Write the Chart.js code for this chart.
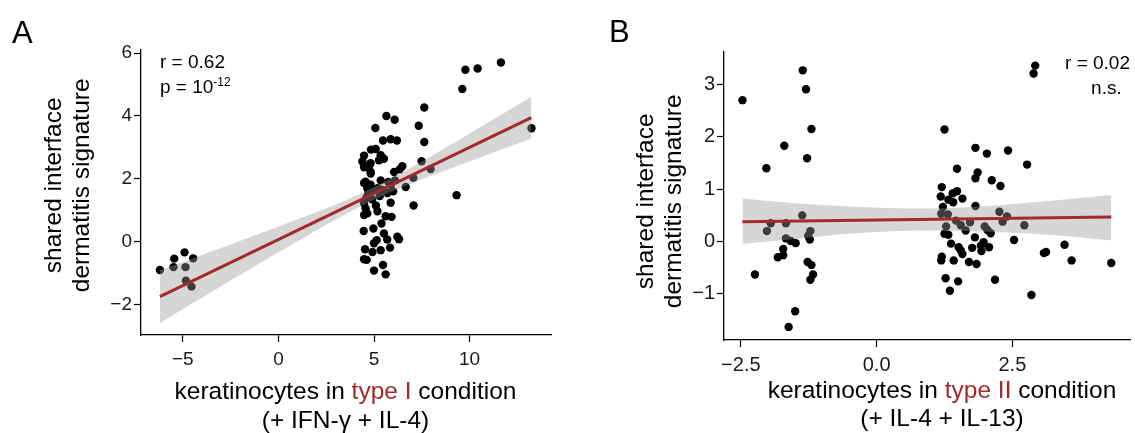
<!DOCTYPE html>
<html>
<head>
<meta charset="utf-8">
<script src="https://cdn.jsdelivr.net/npm/chart.js@4.4.1/dist/chart.umd.min.js"></script>
<style>
body { margin: 0; background: #fff; font-family: "Liberation Sans", Arial, sans-serif; color: #000; }
#wrap { position: relative; width: 1135px; height: 433px; overflow: hidden; }
canvas { position: absolute; top: 0; }
.txt { position: absolute; white-space: nowrap; line-height: 1; }
.sup { font-size: 12px; position: relative; top: -7px; }
.ytitle { position: absolute; width: 300px; height: 56.6px; line-height: 28.3px; font-size: 24.5px;
          text-align: center; transform: rotate(-90deg); white-space: nowrap; }
.xtitle { position: absolute; width: 500px; line-height: 28.3px; font-size: 24.5px; text-align: center; white-space: nowrap; }
.red { color: #a32a2a; }
</style>
</head>
<body>
<div id="wrap">
  <canvas id="chartA" width="570" height="433" style="left:0"></canvas>
  <canvas id="chartB" width="565" height="433" style="left:570px"></canvas>

  <div class="txt" style="font-size:31px; left:12px; top:16.5px">A</div>
  <div class="txt" style="font-size:31px; left:609px; top:15.5px">B</div>

  <div class="txt" style="font-size:19px; left:160px; top:52.2px">r = 0.62</div>
  <div class="txt" style="font-size:19px; left:160px; top:77.2px">p = 10<span class="sup">-12</span></div>
  <div class="txt" style="font-size:19px; right:5px; top:52.9px">r = 0.02</div>
  <div class="txt" style="font-size:19px; right:13.3px; top:78.2px">n.s.</div>

  <div class="ytitle" style="left:-82.8px; top:156.7px">shared interface<br>dermatitis signature</div>
  <div class="ytitle" style="left:508.6px; top:172.7px">shared interface<br>dermatitis signature</div>

  <div class="xtitle" style="left:95.5px; top:377.4px">keratinocytes in <span class="red">type I</span> condition<br>(+ IFN-γ + IL-4)</div>
  <div class="xtitle" style="left:692px; top:375.7px">keratinocytes in <span class="red">type II</span> condition<br>(+ IL-4 + IL-13)</div>
</div>

<script>
// panel A: type I condition
const xA = [-6.2, -5.45, -4.91, -4.46, -5.49, -4.86, -4.84, -4.55,
  9.78, 10.42, 11.64, 9.62, 7.63, 5.65, 6.08, 5.07, 7.34, 5.47,
  5.87, 6.2, 7.63, 4.84, 5.09, 4.48, 5.35, 5.52, 5.26, 4.48,
  4.79, 7.49, 6.48, 6.34, 6.05, 4.83, 7.96, 4.48, 7.06, 6.66,
  5.87, 9.32, 5.87, 7.07, 4.48, 4.56, 5.18, 4.48, 4.65, 5.61,
  5.92, 5.39, 4.97, 4.46, 5.52, 5.69, 6.22, 6.31, 5.14, 5.0,
  5.84, 4.53, 5.35, 4.92, 4.48, 4.62, 5.47, 5.0, 5.61, 13.24,
  4.39, 4.82, 4.82, 4.56, 4.82,
  4.7, 4.95, 5.2, 5.45, 5.7, 4.6, 4.9, 5.3, 6.0, 5.1, 4.65, 5.75, 6.1, 5.35];
const yA = [-0.9, -0.54, -0.34, -0.53, -0.81, -0.81, -1.24, -1.43,
  5.47, 5.51, 5.7, 4.86, 4.27, 4.0, 3.88, 3.62, 3.69, 3.22,
  3.26, 3.22, 3.17, 2.93, 2.95, 2.74, 2.75, 2.64, 2.59, 2.37,
  2.46, 2.56, 2.4, 2.3, 2.22, 2.17, 2.31, 1.87, 2.03, 1.74,
  1.8, 1.48, 1.24, 1.15, 1.22, 1.06, 0.97, 0.85, 0.9, 0.81,
  0.79, 0.58, 0.42, 0.34, 0.26, 0.07, 0.16, 0.08, 0.05, -0.05,
  -0.19, -0.24, -0.27, -0.33, -0.56, -0.58, -0.74, -0.92, -1.04, 3.61,
  2.55, 2.5, 2.23, 1.91, 1.81,
  1.55, 1.62, 1.7, 1.65, 1.55, 1.4, 1.35, 1.45, 1.6, 1.15, 1.7, 1.9, 1.95, 1.95];
const fitXA = [-6.2, 13.23];
const fitYA = [-1.75, 3.95];
const bandXA = [-6.2, -3, 0, 2.5, 4.8, 7, 9.5, 13.23];
const bandHiA = [-0.91, -0.20, 0.48, 1.06, 1.68, 2.38, 3.26, 4.61];
const bandLoA = [-2.59, -1.42, -0.34, 0.54, 1.28, 1.86, 2.44, 3.28];
const xTicksA = [-5, 0, 5, 10];
const xLabelsA = ['\u22125', '0', '5', '10'];
const yTicksA = [-2, 0, 2, 4, 6];
const yLabelsA = ['\u22122', '0', '2', '4', '6'];

// panel B: type II condition
const xB = [-2.47, -1.36, -1.30, -1.20, -1.70, -1.28, -2.03, -1.37, -1.95, -1.67, -2.02, -1.22, -1.26, -1.23,
  -1.67, -1.58, -1.49, -1.72, -1.82, -1.72, -1.27, -1.20, -1.17, -1.22, -2.24, -1.50, -1.62,
  2.92, 2.89, 1.25, 1.82, 2.03, 2.42, 2.77, 1.48, 1.86, 1.82, 2.12, 2.28, 1.20, 1.40, 1.48, 1.18,
  1.58, 1.32, 1.41, 1.82, 1.22, 1.19, 1.31, 2.26, 2.40, 2.32, 2.72, 1.99, 2.04, 1.46, 1.55, 1.28,
  1.64, 1.72, 2.10, 1.25, 1.32, 1.81, 2.53, 1.97, 1.92, 1.37, 1.51, 1.55, 1.58, 2.07, 1.76, 1.93,
  3.46, 3.08, 3.12, 1.19, 1.20, 1.42, 1.70, 1.84, 3.59, 4.32, 1.27, 1.50, 2.18, 1.35, 2.85];
const yB = [2.70, 3.27, 2.91, 2.15, 1.83, 1.59, 1.40, 0.50, 0.35, 0.35, 0.20, 0.20, 0.11, 0.04,
  0.06, 0.01, -0.03, -0.14, -0.30, -0.26, -0.39, -0.45, -0.63, -0.73, -0.63, -1.33, -1.63,
  3.36, 3.21, 2.14, 1.79, 1.68, 1.74, 1.47, 1.39, 1.32, 1.21, 1.17, 1.06, 1.04, 0.92, 0.96, 0.86,
  0.82, 0.80, 0.75, 0.68, 0.66, 0.53, 0.52, 0.57, 0.48, 0.38, 0.31, 0.29, 0.22, 0.40, 0.31, 0.29,
  0.21, 0.37, 0.16, 0.15, 0.13, 0.08, 0.03, -0.01, -0.08, -0.04, -0.11, -0.17, -0.24, -0.11, -0.12, -0.18,
  -0.06, -0.22, -0.20, -0.36, -0.29, -0.36, -0.39, -0.43, -0.36, -0.41, -0.70, -0.76, -0.73, -0.94, -1.02];
const fitXB = [-2.47, 4.32];
const fitYB = [0.38, 0.47];
const bandXB = [-2.47, -1.5, -0.5, 0.9, 2.3, 3.3, 4.32];
const bandHiB = [0.82, 0.73, 0.67, 0.63, 0.70, 0.79, 0.89];
const bandLoB = [-0.04, 0.05, 0.15, 0.21, 0.18, 0.12, 0.02];
const xTicksB = [-2.5, 0, 2.5];
const xLabelsB = ['\u22122.5', '0.0', '2.5'];
const yTicksB = [-1, 0, 1, 2, 3];
const yLabelsB = ['\u22121', '0', '1', '2', '3'];

const RED = '#a32a2a';
const BAND = 'rgba(153,153,153,0.4)';

document.addEventListener('DOMContentLoaded', function() {
    Chart.defaults.font.family = '"Liberation Sans", Arial, sans-serif';

    function toPoints(xs, ys) {
        return xs.map((x, i) => ({ x: x, y: ys[i] }));
    }

    function axis(o) {
        return {
            type: 'linear',
            min: o.min,
            max: o.max,
            afterBuildTicks: s => { s.ticks = o.ticks.map(v => ({ value: v })); },
            afterFit: s => { if (o.width) s.width = o.width; if (o.height) s.height = o.height; },
            ticks: {
                callback: v => o.labels[o.ticks.indexOf(v)],
                font: { size: o.size },
                color: '#1a1a1a',
                padding: o.pad,
                maxRotation: 0,
                autoSkip: false
            },
            grid: { drawOnChartArea: false, drawTicks: true, tickLength: 7, tickColor: '#000', tickWidth: 1.2 },
            border: { display: true, color: '#000', width: 1.3 }
        };
    }

    function desenhar(id, p) {
        const ctx = document.getElementById(id).getContext('2d');
        return new Chart(ctx, {
            type: 'scatter',
            data: {
                datasets: [
                    { type: 'line', data: toPoints(p.fitX, p.fitY), borderColor: RED, borderWidth: 3,
                      pointRadius: 0, fill: false, showLine: true, order: 0 },
                    { type: 'line', data: toPoints(p.bandX, p.bandHi), borderColor: 'rgba(0,0,0,0)', borderWidth: 0,
                      pointRadius: 0, fill: '+1', backgroundColor: BAND, showLine: true,
                      cubicInterpolationMode: 'monotone', order: 1 },
                    { type: 'line', data: toPoints(p.bandX, p.bandLo), borderColor: 'rgba(0,0,0,0)', borderWidth: 0,
                      pointRadius: 0, fill: false, showLine: true, cubicInterpolationMode: 'monotone', order: 1 },
                    { data: toPoints(p.x, p.y), backgroundColor: '#000', borderWidth: 0, pointRadius: 4.2, order: 2 }
                ]
            },
            options: {
                responsive: false,
                animation: false,
                events: [],
                layout: { padding: p.padding },
                plugins: { legend: { display: false }, tooltip: { enabled: false } },
                scales: { x: p.xAxis, y: p.yAxis }
            }
        });
    }

    desenhar('chartA', {
        x: xA, y: yA, fitX: fitXA, fitY: fitYA, bandX: bandXA, bandHi: bandHiA, bandLo: bandLoA,
        padding: { left: 0, right: 19, top: 50, bottom: 0 },
        xAxis: axis({ min: -7.19, max: 14.26, ticks: xTicksA, labels: xLabelsA, size: 19, pad: 6, height: 98 }),
        yAxis: axis({ min: -2.97, max: 6.1, ticks: yTicksA, labels: yLabelsA, size: 19, pad: 2, width: 141 })
    });

    desenhar('chartB', {
        x: xB, y: yB, fitX: fitXB, fitY: fitYB, bandX: bandXB, bandHi: bandHiB, bandLo: bandLoB,
        padding: { left: 0, right: 0, top: 52, bottom: 0 },
        xAxis: axis({ min: -2.81, max: 4.68, ticks: xTicksB, labels: xLabelsB, size: 20, pad: 6, height: 93 }),
        yAxis: axis({ min: -1.88, max: 3.62, ticks: yTicksB, labels: yLabelsB, size: 20, pad: 2, width: 154 })
    });
});
</script>
</body>
</html>
